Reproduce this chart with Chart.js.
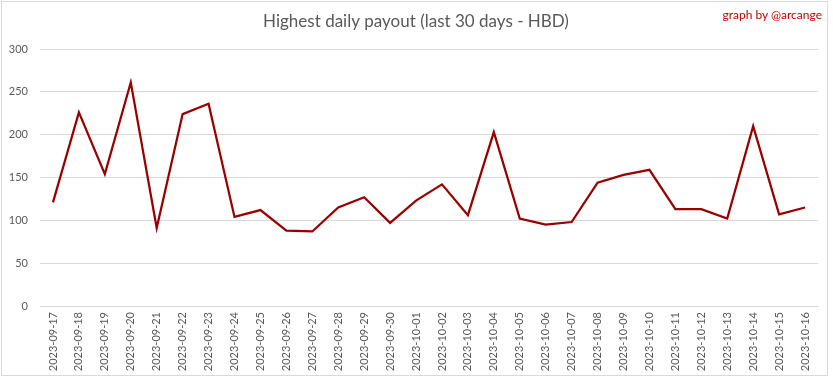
<!DOCTYPE html>
<html>
<head>
<meta charset="utf-8">
<script src="https://cdn.jsdelivr.net/npm/chart.js@4/dist/chart.umd.min.js"></script>
<style>
  html, body { margin: 0; padding: 0; background: #fff; }
  #wrap { position: relative; width: 833px; height: 379px; }
  #frame { position: absolute; left: 1px; top: 1px; width: 827px; height: 375px; border: 1px solid #d9d9d9; box-sizing: border-box; pointer-events: none; }
  #credit { position: absolute; right: 11px; top: 7px; font-family: Lato, "Open Sans", sans-serif; font-size: 12px; color: #c00000; }
</style>
</head>
<body>
<div id="wrap">
  <canvas id="c" width="833" height="379"></canvas>
  <div id="frame"></div>
  <div id="credit">graph by @arcange</div>
</div>
<script>
const titleText = "Highest daily payout (last 30 days - HBD)";
const categories = ["2023-09-17","2023-09-18","2023-09-19","2023-09-20","2023-09-21","2023-09-22","2023-09-23","2023-09-24","2023-09-25","2023-09-26","2023-09-27","2023-09-28","2023-09-29","2023-09-30","2023-10-01","2023-10-02","2023-10-03","2023-10-04","2023-10-05","2023-10-06","2023-10-07","2023-10-08","2023-10-09","2023-10-10","2023-10-11","2023-10-12","2023-10-13","2023-10-14","2023-10-15","2023-10-16"];
const payout = [121, 226, 154, 261, 91, 224, 236, 104, 112, 88, 87, 115, 127, 97, 123, 142, 106, 203, 102, 95, 98, 144, 153, 159, 113, 113, 102, 210, 107, 115];
const yTicks = [0, 50, 100, 150, 200, 250, 300];

const titlePlugin = {
  id: 'customTitle',
  afterDraw(chart) {
    const ctx = chart.ctx;
    ctx.save();
    ctx.font = '17px Lato, "Open Sans", sans-serif';
    ctx.fillStyle = '#595959';
    ctx.textAlign = 'center';
    ctx.textBaseline = 'middle';
    ctx.fillText(titleText, 416, 22);
    ctx.restore();
  }
};

new Chart(document.getElementById('c'), {
  type: 'line',
  data: {
    labels: categories,
    datasets: [{
      data: payout,
      borderColor: '#990000',
      borderWidth: 2.25,
      pointRadius: 0,
      tension: 0,
      fill: false
    }]
  },
  options: {
    responsive: false,
    animation: false,
    devicePixelRatio: 1,
    layout: { padding: { top: 49, left: 0, right: 15, bottom: 0 } },
    plugins: { legend: { display: false }, title: { display: false }, tooltip: { enabled: false } },
    scales: {
      x: {
        type: 'category',
        offset: true,
        grid: { display: false, drawTicks: false },
        border: { display: true, color: '#d9d9d9' },
        ticks: {
          minRotation: 90, maxRotation: 90, autoSkip: false,
          color: '#595959', padding: 6,
          font: { family: 'Lato, "Open Sans", sans-serif', size: 11 }
        },
        afterFit(scale) { scale.height = 73; }
      },
      y: {
        min: 0, max: 300,
        afterBuildTicks(scale) { scale.ticks = yTicks.map(v => ({ value: v })); },
        grid: { color: '#d9d9d9', lineWidth: 1, drawTicks: false },
        border: { display: false },
        ticks: {
          color: '#595959', padding: 12,
          font: { family: 'Lato, "Open Sans", sans-serif', size: 11 }
        },
        afterFit(scale) { scale.width = 40; }
      }
    }
  },
  plugins: [titlePlugin]
});
</script>
</body>
</html>
